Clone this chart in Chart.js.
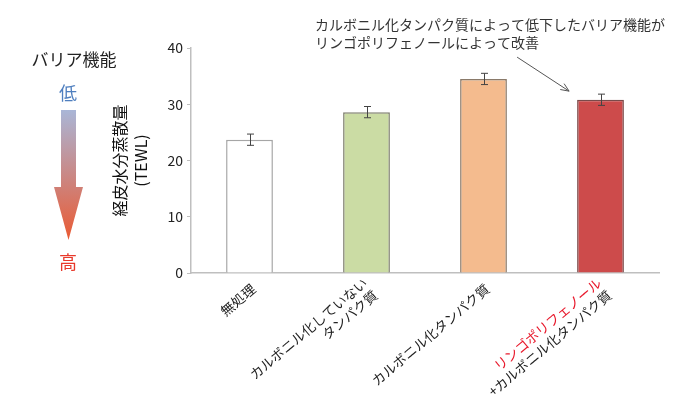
<!DOCTYPE html>
<html>
<head>
<meta charset="utf-8">
<script src="https://cdn.jsdelivr.net/npm/chart.js@4"></script>
<style>
  html, body { margin: 0; padding: 0; background: #ffffff; }
  #wrap { width: 700px; height: 419px; position: relative; }
</style>
</head>
<body>
<div id="wrap"><canvas id="chart"></canvas></div>
<script>
// data
const categories = [
  ['無処理'],
  ['カルボニル化していない', 'タンパク質'],
  ['カルボニル化タンパク質'],
  ['リンゴポリフェノール', '+カルボニル化タンパク質']
];
const tewl = [23.7, 28.6, 34.5, 30.8];
const tewlError = [1.0, 1.0, 1.0, 1.0];
const yTicks = [0, 10, 20, 30, 40];

const annotationLines = [
  'カルボニル化タンパク質によって低下したバリア機能が',
  'リンゴポリフェノールによって改善'
];

const FONT = '"Noto Sans CJK JP", "Noto Sans", sans-serif';
const barColors = ['#ffffff', '#cbdca4', '#f4bb8e', '#cd4b4b'];
const barBorders = ['#a6a6a6', '#7f7f6f', '#8a7a6a', '#7a4a4a'];

// error bars on top of each bar
const errorBars = {
  id: 'errorBars',
  afterDatasetsDraw(chart) {
    const { ctx, scales: { y } } = chart;
    const meta = chart.getDatasetMeta(0);
    ctx.save();
    ctx.strokeStyle = '#444444';
    ctx.lineWidth = 1;
    meta.data.forEach((bar, i) => {
      const top = y.getPixelForValue(tewl[i] + tewlError[i]);
      const bot = y.getPixelForValue(tewl[i] - tewlError[i]);
      const x = Math.round(bar.x) + 0.5;
      ctx.beginPath();
      ctx.moveTo(x, top); ctx.lineTo(x, bot);
      ctx.moveTo(x - 3.5, top); ctx.lineTo(x + 3.5, top);
      ctx.moveTo(x - 3.5, bot); ctx.lineTo(x + 3.5, bot);
      ctx.stroke();
    });
    ctx.restore();
  }
};

// rotated category labels, last one with a red first line
const categoryLabels = {
  id: 'categoryLabels',
  afterDraw(chart) {
    const { ctx, scales: { x, y } } = chart;
    const lh = 16;
    ctx.save();
    ctx.font = '13.5px ' + FONT;
    ctx.textAlign = 'right';
    ctx.textBaseline = 'middle';
    categories.forEach((lines, i) => {
      const px = x.getPixelForValue(i) + 4;
      const py = y.bottom + 14;
      ctx.save();
      ctx.translate(px, py);
      ctx.rotate(-40 * Math.PI / 180);
      lines.forEach((line, j) => {
        const off = (j - (lines.length - 1) / 2) * lh;
        ctx.fillStyle = (i === 3 && j === 0) ? '#e8192c' : '#222222';
        ctx.fillText(line, 0, off);
      });
      ctx.restore();
    });
    ctx.restore();
  }
};

// note + arrow pointing at the last bar
const annotation = {
  id: 'annotation',
  afterDraw(chart) {
    const { ctx, scales: { y } } = chart;
    const bar = chart.getDatasetMeta(0).data[3];
    ctx.save();
    ctx.font = '14px ' + FONT;
    ctx.fillStyle = '#333333';
    ctx.textAlign = 'left';
    ctx.textBaseline = 'middle';
    annotationLines.forEach((t, i) => ctx.fillText(t, 315, 25 + i * 18));

    const tipX = bar.x - bar.width / 2 - 8;
    const tipY = y.getPixelForValue(tewl[3] + tewlError[3]) - 3;
    const sx = tipX - 52, sy = tipY - 34;
    const ang = Math.atan2(tipY - sy, tipX - sx);
    ctx.strokeStyle = '#555555';
    ctx.lineWidth = 1;
    ctx.beginPath();
    ctx.moveTo(sx, sy); ctx.lineTo(tipX, tipY);
    ctx.moveTo(tipX - 9 * Math.cos(ang - 0.4), tipY - 9 * Math.sin(ang - 0.4));
    ctx.lineTo(tipX, tipY);
    ctx.lineTo(tipX - 9 * Math.cos(ang + 0.4), tipY - 9 * Math.sin(ang + 0.4));
    ctx.stroke();
    ctx.restore();
  }
};

// "バリア機能" low -> high gradient arrow on the left
const barrierKey = {
  id: 'barrierKey',
  afterDraw(chart) {
    const { ctx } = chart;
    ctx.save();
    ctx.textAlign = 'center';
    ctx.textBaseline = 'middle';
    ctx.font = '17px ' + FONT;
    ctx.fillStyle = '#222222';
    ctx.fillText('バリア機能', 74, 60);
    ctx.font = '18px ' + FONT;
    ctx.fillStyle = '#4f7fbf';
    ctx.fillText('低', 68, 93);
    ctx.fillStyle = '#e8392b';
    ctx.fillText('高', 68, 262);

    const g = ctx.createLinearGradient(0, 110, 0, 240);
    g.addColorStop(0, '#a9b6d7');
    g.addColorStop(1, '#ea5a33');
    ctx.fillStyle = g;
    ctx.beginPath();
    ctx.moveTo(61, 110); ctx.lineTo(76, 110); ctx.lineTo(76, 187);
    ctx.lineTo(83, 187); ctx.lineTo(68.5, 240); ctx.lineTo(54, 187);
    ctx.lineTo(61, 187); ctx.closePath();
    ctx.fill();
    ctx.restore();
  }
};

new Chart(document.getElementById('chart'), {
  type: 'bar',
  data: {
    labels: categories.map(c => c.join('')),
    datasets: [{
      data: tewl,
      backgroundColor: barColors,
      borderColor: barBorders,
      borderWidth: 1.5,
      categoryPercentage: 0.4,
      barPercentage: 1
    }]
  },
  options: {
    responsive: true,
    maintainAspectRatio: false,
    animation: false,
    layout: { padding: { left: 0, right: 41, top: 48, bottom: 138 } },
    plugins: { legend: { display: false }, tooltip: { enabled: false } },
    scales: {
      x: {
        grid: { display: false },
        border: { color: '#bfbfbf', width: 1.5 },
        ticks: { display: false }
      },
      y: {
        min: 0,
        max: 40,
        afterFit(scale) { scale.width = 191; },
        afterBuildTicks(scale) { scale.ticks = yTicks.map(v => ({ value: v })); },
        grid: { drawOnChartArea: false, drawTicks: true, tickLength: 4, color: '#bfbfbf' },
        border: { color: '#bfbfbf', width: 1.5 },
        ticks: { color: '#222222', padding: 4, font: { size: 14, family: FONT } },
        title: {
          display: true,
          text: ['経皮水分蒸散量', '(TEWL)'],
          color: '#111111',
          font: { size: 16, family: FONT, lineHeight: 1.35 },
          padding: { top: 109, bottom: 0 }
        }
      }
    }
  },
  plugins: [errorBars, categoryLabels, annotation, barrierKey]
});
</script>
</body>
</html>
